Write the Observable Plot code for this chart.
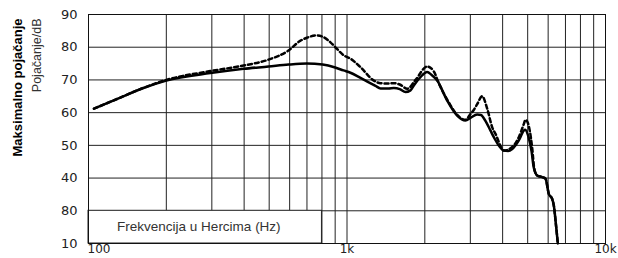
<!DOCTYPE html>
<html>
<head>
<meta charset="utf-8">
<script src="https://cdn.jsdelivr.net/npm/d3@7"></script>
<script src="https://cdn.jsdelivr.net/npm/@observablehq/plot@0.6"></script>
<style>
  html, body { margin: 0; padding: 0; background: white; }
</style>
</head>
<body>
<div id="chart"></div>
<script>
// Tick values and labels
const xTicks = [100, 1000, 10000];
const xTickLabels = ["100", "1k", "10k"];
const yTicks = [90, 80, 70, 60, 50, 40, 30, 20];
const yTickLabels = ["90", "80", "70", "60", "50", "40", "80", "10"];
const xGrid = [200, 300, 400, 500, 600, 700, 800, 900, 1000, 2000, 3000, 4000, 5000, 6000, 7000, 8000, 9000];
const yGrid = [30, 40, 50, 60, 70, 80];

// Titles
const yTitle = "Maksimalno pojačanje";
const yUnit = "Pojačanje/dB";
const xTitle = "Frekvencija u Hercima (Hz)";

// Solid curve: frequency (Hz) and gain (dB)
const solidF = [105, 130, 160, 200, 296, 398, 497, 594, 699, 805, 900, 969, 1031, 1128, 1289, 1348, 1450, 1517, 1600, 1684, 1760, 1813, 1920, 2043, 2120, 2233, 2441, 2669, 2872, 3005, 3189, 3300, 3382, 3591, 3698, 4044, 4200, 4357, 4620, 4830, 4890, 5040, 5180, 5276, 5439, 5688, 5859, 6035, 6220, 6310, 6446, 6539];
const solidDb = [61.2, 64.3, 67.3, 69.8, 72.1, 73.4, 74.1, 74.7, 75.0, 74.7, 73.8, 72.9, 72.2, 70.6, 68.2, 67.4, 67.4, 67.5, 67.2, 66.3, 66.8, 68.3, 70.8, 72.4, 71.6, 69.8, 63.7, 59.1, 57.6, 58.4, 59.4, 59.3, 58.3, 54.5, 52.5, 48.4, 48.3, 48.9, 51.5, 54.5, 54.8, 52.5, 48.0, 43.3, 40.8, 40.3, 39.8, 35.2, 33.6, 31.6, 25.0, 20.0];

// Dashed curve
const dashF = [105, 130, 160, 200, 296, 398, 497, 594, 661, 700, 760, 800, 863, 889, 973, 1031, 1128, 1270, 1348, 1450, 1517, 1600, 1710, 1841, 2043, 2167, 2264, 2441, 2669, 2872, 3005, 3093, 3189, 3334, 3487, 3646, 3754, 4044, 4357, 4620, 4830, 4903, 5000, 5093, 5201, 5300, 5439, 5688, 5859, 6035, 6220, 6310, 6446, 6539];
const dashDb = [61.2, 64.3, 67.3, 70.0, 72.7, 74.4, 76.2, 79.0, 82.0, 82.9, 83.6, 83.3, 81.5, 80.5, 77.5, 76.5, 73.9, 69.8, 69.0, 68.9, 69.0, 68.6, 67.3, 70.0, 74.1, 72.6, 69.0, 64.0, 59.3, 57.8, 59.6, 60.8, 62.6, 65.0, 61.2, 55.5, 53.5, 48.4, 49.5, 52.5, 56.5, 57.8, 57.0, 54.5, 49.4, 43.0, 40.8, 40.3, 39.8, 35.2, 33.6, 31.6, 25.0, 20.0];

const solid = solidF.map((f, i) => ({f, db: solidDb[i]}));
const dashed = dashF.map((f, i) => ({f, db: dashDb[i]}));
const legendBox = [{x1: 100, x2: 800, y1: 20, y2: 30}];
const legendPos = [{f: 129, db: 25, text: xTitle}];

const yLabel = new Map(yTicks.map((v, i) => [v, yTickLabels[i]]));
const xLabel = new Map(xTicks.map((v, i) => [v, xTickLabels[i]]));

const chart = Plot.plot({
  width: 618,
  height: 258,
  marginLeft: 88,
  marginRight: 13,
  marginTop: 14,
  marginBottom: 15,
  style: {fontFamily: "DejaVu Sans, sans-serif", fontSize: "13px", background: "white", color: "#222"},
  x: {type: "log", domain: [100, 10000]},
  y: {domain: [20, 90]},
  marks: [
    Plot.ruleX(xGrid, {stroke: "#222", strokeWidth: 1}),
    Plot.ruleY(yGrid, {stroke: "#222", strokeWidth: 1}),
    Plot.rect(legendBox, {x1: "x1", x2: "x2", y1: "y1", y2: "y2", fill: "white", stroke: "#222"}),
    Plot.text(legendPos, {x: "f", y: "db", text: "text", textAnchor: "start", fontSize: 13.5, fill: "#333", fontFamily: "Liberation Sans, sans-serif"}),
    Plot.frame({stroke: "#111"}),
    Plot.line(solid, {x: "f", y: "db", stroke: "black", strokeWidth: 2.5, curve: "monotone-x"}),
    Plot.line(dashed, {x: "f", y: "db", stroke: "black", strokeWidth: 2.5, strokeDasharray: "4,3", curve: "monotone-x"}),
    Plot.axisY({ticks: yTicks, tickFormat: d => yLabel.get(d), tickSize: 0, tickPadding: 11, label: null, fontSize: 13, fill: "#222"}),
    Plot.axisX({ticks: xTicks.slice(1), tickFormat: d => xLabel.get(d), tickSize: 0, tickPadding: 1, label: null, fontSize: 12, fill: "#222"}),
    Plot.text(xTicks.slice(0, 1), {x: d => d, text: d => xLabel.get(d), frameAnchor: "bottom", textAnchor: "start", lineAnchor: "top", dy: 1, dx: -1, fontSize: 12, fill: "#222"}),
    Plot.text([yTitle], {text: d => d, frameAnchor: "top-left", rotate: -90, textAnchor: "end", lineAnchor: "middle", dx: -71, dy: 4, fontSize: 13, fontWeight: "bold", fill: "black", fontFamily: "Liberation Sans, sans-serif"}),
    Plot.text([yUnit], {text: d => d, frameAnchor: "top-left", rotate: -90, textAnchor: "end", lineAnchor: "middle", dx: -52, dy: 4, fontSize: 12.5, fill: "#333", fontFamily: "Liberation Sans, sans-serif"})
  ]
});
document.getElementById("chart").appendChild(chart);
</script>
</body>
</html>
